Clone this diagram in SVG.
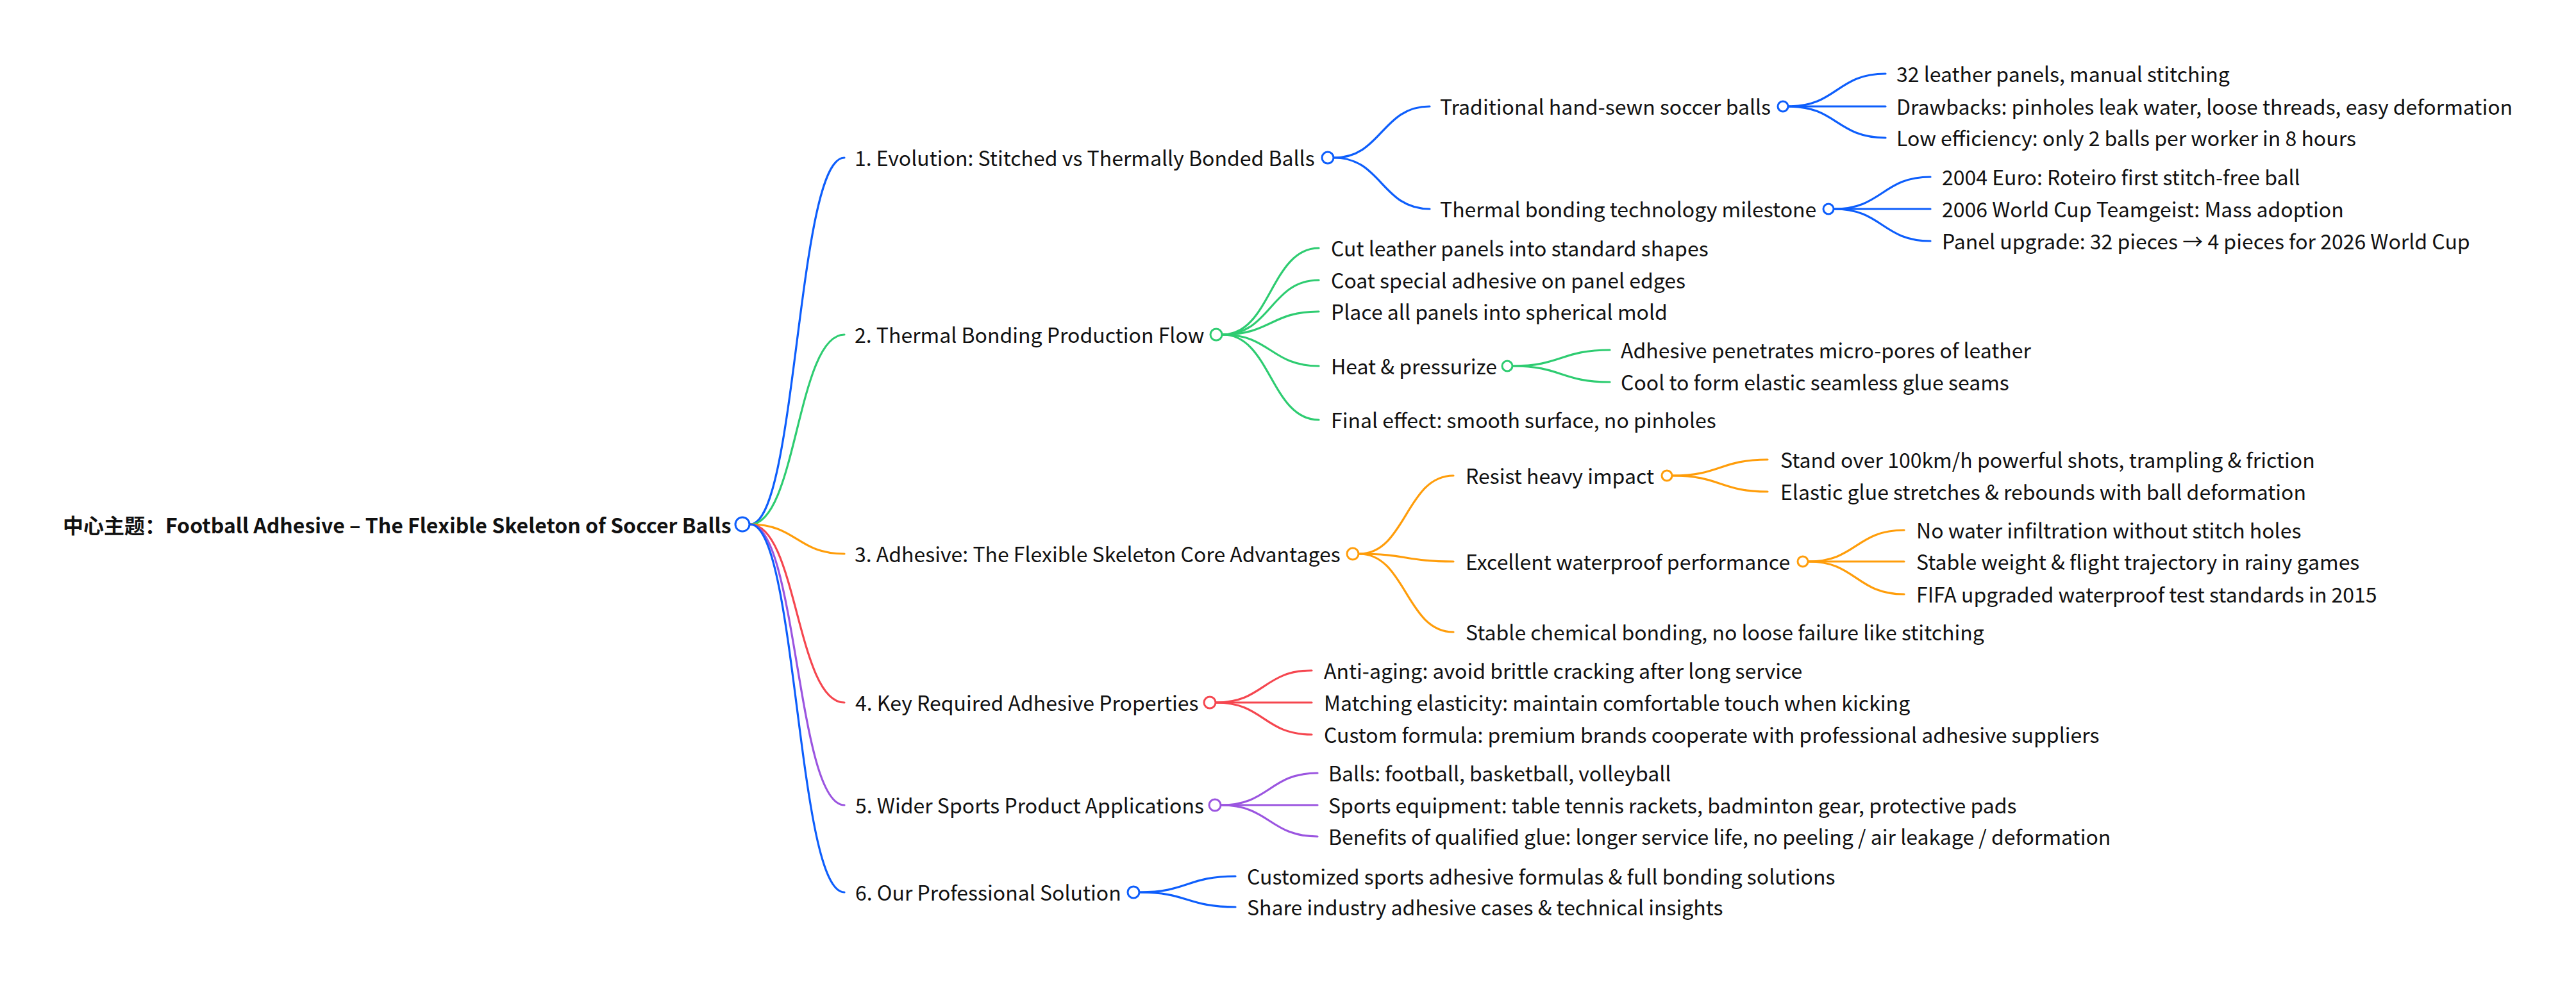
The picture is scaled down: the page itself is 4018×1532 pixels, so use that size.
<svg xmlns="http://www.w3.org/2000/svg" width="4018" height="1532" viewBox="0 0 4018 1532">
<style>
text{font-family:"Noto Sans CJK SC","Noto Sans",sans-serif;font-size:32px;fill:#111;transform:translateY(2px);}
.root{font-weight:bold;font-size:32px;}
path{fill:none;stroke-width:3.2;stroke-linecap:round;}
circle{fill:#fff;stroke-width:3;}
.b{stroke:#0d5efc;}.g{stroke:#2ecc71;}.o{stroke:#ff9d0a;}.r{stroke:#f5464f;}.p{stroke:#9b55e0;}
</style>
<rect width="4018" height="1532" fill="#fff"/>
<g id="connectors">
<path class="b" d="M1170 818 C1243 818 1243 246 1317 246"/>
<path class="g" d="M1170 818 C1243 818 1243 522 1317 522"/>
<path class="o" d="M1170 818 C1243 818 1243 864 1317 864"/>
<path class="r" d="M1170 818 C1243 818 1243 1096 1317 1096"/>
<path class="p" d="M1170 818 C1243 818 1243 1256 1317 1256"/>
<path class="b" d="M1170 818 C1243 818 1243 1392 1317 1392"/>
<path class="b" d="M2081 246 C2155 246 2155 166 2230 166"/>
<path class="b" d="M2081 246 C2155 246 2155 326 2230 326"/>
<path class="b" d="M2790 166 C2865 166 2865 115 2941 115"/>
<path class="b" d="M2790 166 L2941 166"/>
<path class="b" d="M2790 166 C2865 166 2865 215 2941 215"/>
<path class="b" d="M2861 326 C2936 326 2936 276 3011 276"/>
<path class="b" d="M2861 326 L3011 326"/>
<path class="b" d="M2861 326 C2936 326 2936 376 3011 376"/>
<path class="g" d="M1907 522 C1982 522 1982 387 2057 387"/>
<path class="g" d="M1907 522 C1982 522 1982 437 2057 437"/>
<path class="g" d="M1907 522 C1982 522 1982 486 2057 486"/>
<path class="g" d="M1907 522 C1982 522 1982 571 2057 571"/>
<path class="g" d="M1907 522 C1982 522 1982 655 2057 655"/>
<path class="g" d="M2360 571 C2435 571 2435 546 2511 546"/>
<path class="g" d="M2360 571 C2435 571 2435 596 2511 596"/>
<path class="o" d="M2120 864 C2193 864 2193 742 2267 742"/>
<path class="o" d="M2120 864 C2193 864 2193 876 2267 876"/>
<path class="o" d="M2120 864 C2193 864 2193 986 2267 986"/>
<path class="o" d="M2609 742 C2683 742 2683 717 2757 717"/>
<path class="o" d="M2609 742 C2683 742 2683 767 2757 767"/>
<path class="o" d="M2821 876 C2895 876 2895 827 2970 827"/>
<path class="o" d="M2821 876 L2970 876"/>
<path class="o" d="M2821 876 C2895 876 2895 927 2970 927"/>
<path class="r" d="M1897 1096 C1971 1096 1971 1046 2046 1046"/>
<path class="r" d="M1897 1096 L2046 1096"/>
<path class="r" d="M1897 1096 C1971 1096 1971 1146 2046 1146"/>
<path class="p" d="M1905 1256 C1980 1256 1980 1206 2055 1206"/>
<path class="p" d="M1905 1256 L2055 1256"/>
<path class="p" d="M1905 1256 C1980 1256 1980 1305 2055 1305"/>
<path class="b" d="M1778 1392 C1852 1392 1852 1367 1927 1367"/>
<path class="b" d="M1778 1392 C1852 1392 1852 1415 1927 1415"/>
</g>
<g id="root"><text class="root" x="98" y="830">中心主题：Football Adhesive – The Flexible Skeleton of Soccer Balls</text><circle class="b" cx="1158" cy="818" r="11"/></g>
<g id="n1"><text x="1333" y="257">1. Evolution: Stitched vs Thermally Bonded Balls</text><circle class="b" cx="2071" cy="246" r="9"/></g>
<g id="n1a"><text x="2246" y="177">Traditional hand-sewn soccer balls</text><circle class="b" cx="2781" cy="166" r="8"/></g>
<g id="n1a1"><text x="2958" y="126">32 leather panels, manual stitching</text></g>
<g id="n1a2"><text x="2958" y="177">Drawbacks: pinholes leak water, loose threads, easy deformation</text></g>
<g id="n1a3"><text x="2958" y="226">Low efficiency: only 2 balls per worker in 8 hours</text></g>
<g id="n1b"><text x="2246" y="337">Thermal bonding technology milestone</text><circle class="b" cx="2852" cy="326" r="8"/></g>
<g id="n1b1"><text x="3029" y="287">2004 Euro: Roteiro first stitch-free ball</text></g>
<g id="n1b2"><text x="3029" y="337">2006 World Cup Teamgeist: Mass adoption</text></g>
<g id="n1b3"><text x="3029" y="387">Panel upgrade: 32 pieces → 4 pieces for 2026 World Cup</text></g>
<g id="n2"><text x="1333" y="533">2. Thermal Bonding Production Flow</text><circle class="g" cx="1897" cy="522" r="9"/></g>
<g id="n2a"><text x="2076" y="398">Cut leather panels into standard shapes</text></g>
<g id="n2b"><text x="2076" y="448">Coat special adhesive on panel edges</text></g>
<g id="n2c"><text x="2076" y="497">Place all panels into spherical mold</text></g>
<g id="n2d"><text x="2076" y="582">Heat &amp; pressurize</text><circle class="g" cx="2351" cy="571" r="8"/></g>
<g id="n2d1"><text x="2528" y="557">Adhesive penetrates micro-pores of leather</text></g>
<g id="n2d2"><text x="2528" y="607">Cool to form elastic seamless glue seams</text></g>
<g id="n2e"><text x="2076" y="666">Final effect: smooth surface, no pinholes</text></g>
<g id="n3"><text x="1333" y="875">3. Adhesive: The Flexible Skeleton Core Advantages</text><circle class="o" cx="2110" cy="864" r="9"/></g>
<g id="n3a"><text x="2286" y="753">Resist heavy impact</text><circle class="o" cx="2600" cy="742" r="8"/></g>
<g id="n3a1"><text x="2777" y="728">Stand over 100km/h powerful shots, trampling &amp; friction</text></g>
<g id="n3a2"><text x="2777" y="778">Elastic glue stretches &amp; rebounds with ball deformation</text></g>
<g id="n3b"><text x="2286" y="887">Excellent waterproof performance</text><circle class="o" cx="2812" cy="876" r="8"/></g>
<g id="n3b1"><text x="2989" y="838">No water infiltration without stitch holes</text></g>
<g id="n3b2"><text x="2989" y="887">Stable weight &amp; flight trajectory in rainy games</text></g>
<g id="n3b3"><text x="2989" y="938">FIFA upgraded waterproof test standards in 2015</text></g>
<g id="n3c"><text x="2286" y="997">Stable chemical bonding, no loose failure like stitching</text></g>
<g id="n4"><text x="1334" y="1107">4. Key Required Adhesive Properties</text><circle class="r" cx="1887" cy="1096" r="9"/></g>
<g id="n4a"><text x="2065" y="1057">Anti-aging: avoid brittle cracking after long service</text></g>
<g id="n4b"><text x="2065" y="1107">Matching elasticity: maintain comfortable touch when kicking</text></g>
<g id="n4c"><text x="2065" y="1157">Custom formula: premium brands cooperate with professional adhesive suppliers</text></g>
<g id="n5"><text x="1334" y="1267">5. Wider Sports Product Applications</text><circle class="p" cx="1895" cy="1256" r="9"/></g>
<g id="n5a"><text x="2072" y="1217">Balls: football, basketball, volleyball</text></g>
<g id="n5b"><text x="2072" y="1267">Sports equipment: table tennis rackets, badminton gear, protective pads</text></g>
<g id="n5c"><text x="2072" y="1316">Benefits of qualified glue: longer service life, no peeling / air leakage / deformation</text></g>
<g id="n6"><text x="1334" y="1403">6. Our Professional Solution</text><circle class="b" cx="1768" cy="1392" r="9"/></g>
<g id="n6a"><text x="1945" y="1378">Customized sports adhesive formulas &amp; full bonding solutions</text></g>
<g id="n6b"><text x="1945" y="1426">Share industry adhesive cases &amp; technical insights</text></g>
</svg>
